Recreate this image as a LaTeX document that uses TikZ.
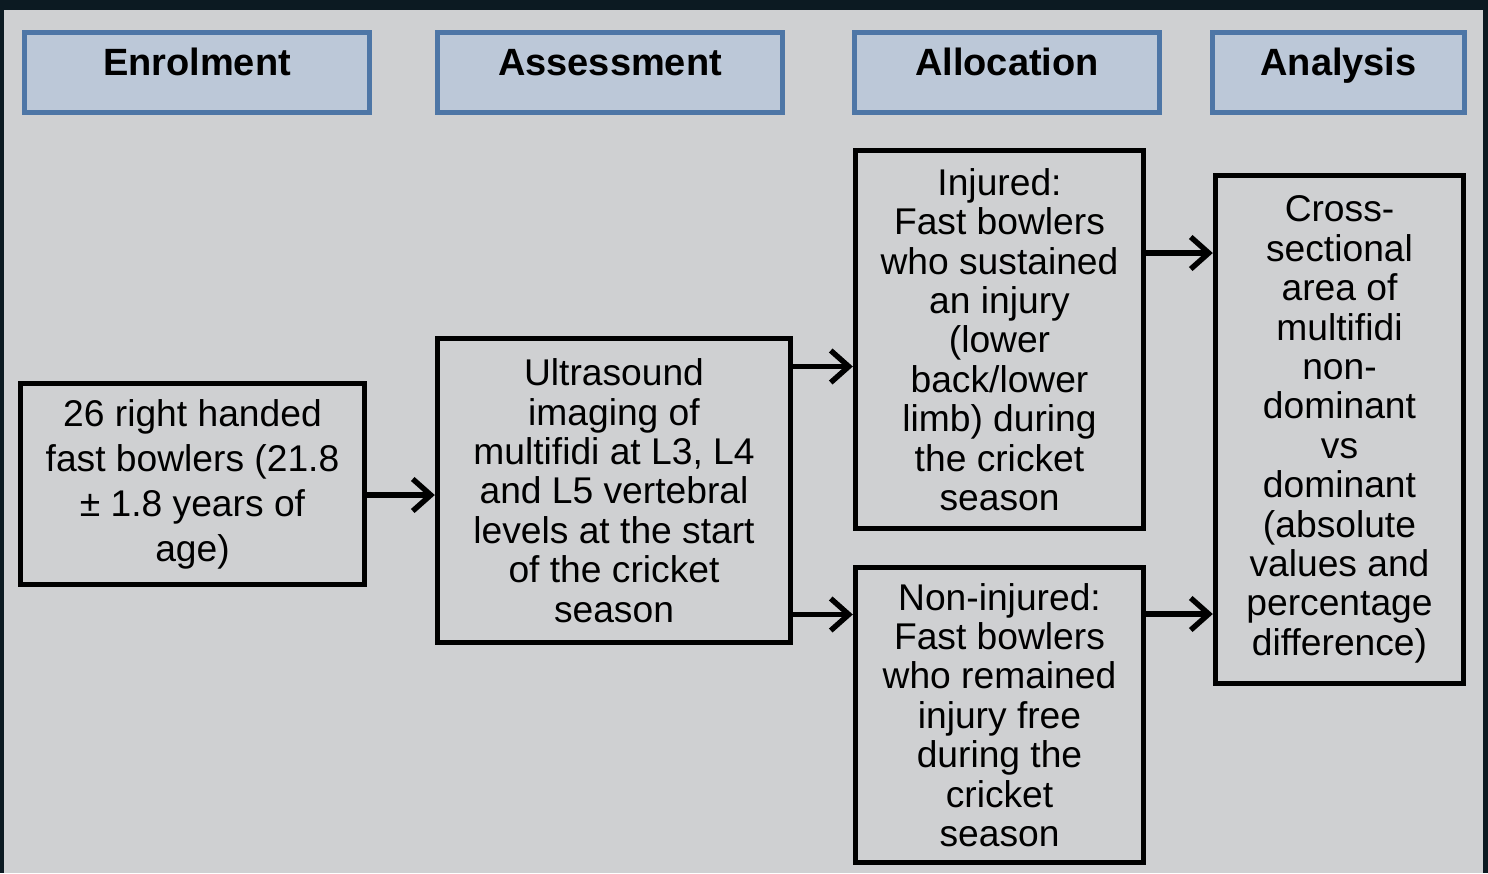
\documentclass[tikz,border=0pt]{standalone}
\usepackage{fontspec}
\setmainfont{Liberation Sans}
\usetikzlibrary{arrows.meta,positioning}
\definecolor{pagebg}{HTML}{CFD0D2}
\definecolor{frameink}{HTML}{0C1A22}
\definecolor{headfill}{HTML}{BCC8D8}
\definecolor{headline}{HTML}{4E76A6}
\tikzset{
    raw box/.style={rectangle, draw, line width=2.7pt, align=center, inner sep=0pt},
    phase head/.style={raw box, headline, fill=headfill, text=black, minimum height=40pt,
        text height=14pt, text depth=10.9pt, font=\fontsize{19}{22}\selectfont\bfseries},
    step box/.style={raw box, black, font=\fontsize{18.6}{19.7}\selectfont},
    flow/.style={line width=2.7pt, -{Straight Barb[length=9pt,width=16pt]}}
}
\begin{document}
\begin{tikzpicture}[x=0.5pt,y=-0.5pt]
    \fill[frameink] (0,0) rectangle (1488,873);
    \fill[pagebg] (4,10) rectangle (1483,873);
    \useasboundingbox (0,0) rectangle (1488,873);

    \node[phase head, minimum width=172.5pt] (h enrol) at (197,72.5) {Enrolment};
    \node[phase head, minimum width=172.5pt] (h assess) at (610,72.5) {Assessment};
    \node[phase head, minimum width=152.5pt] (h alloc) at (1007,72.5) {Allocation};
    \node[phase head, minimum width=126pt] (h analysis) at (1338.5,72.5) {Analysis};

    \node[step box, minimum width=172pt, minimum height=100.5pt,
          font=\fontsize{18.6}{22.5}\selectfont] (enrol) at (192.5,484)
        {26 right handed\\fast bowlers (21.8\\± 1.8 years of\\age)};
    \node[step box, minimum width=176.5pt, minimum height=152pt] (assess) at (614,490.5)
        {Ultrasound\\imaging of\\multifidi at L3, L4\\and L5 vertebral\\levels at the start\\of the cricket\\season};
    \node[step box, minimum width=144pt, minimum height=189pt] (injured) at (999.5,339.5)
        {Injured:\\Fast bowlers\\who sustained\\an injury\\(lower\\back/lower\\limb) during\\the cricket\\season};
    \node[step box, minimum width=144pt, minimum height=147.5pt] (noninj) at (999.5,715)
        {Non-injured:\\Fast bowlers\\who remained\\injury free\\during the\\cricket\\season};
    \node[step box, minimum width=124pt, minimum height=254pt] (csa) at (1339.5,429.5)
        {Cross-\\sectional\\area of\\multifidi\\non-\\dominant\\vs\\dominant\\(absolute\\values and\\percentage\\difference)};

    \draw[flow] ([yshift=-5.5pt]enrol.east) -- ([yshift=-5.5pt]enrol.east -| assess.west);
    \draw[flow] ([yshift=62pt]assess.east) -- ([yshift=62pt]assess.east -| injured.west);
    \draw[flow] ([yshift=-62pt]assess.east) -- ([yshift=-62pt]assess.east -| noninj.west);
    \draw[flow] ([yshift=43.25pt]injured.east) -- ([yshift=43.25pt]injured.east -| csa.west);
    \draw[flow] ([yshift=50.5pt]noninj.east) -- ([yshift=50.5pt]noninj.east -| csa.west);
\end{tikzpicture}
\end{document}
